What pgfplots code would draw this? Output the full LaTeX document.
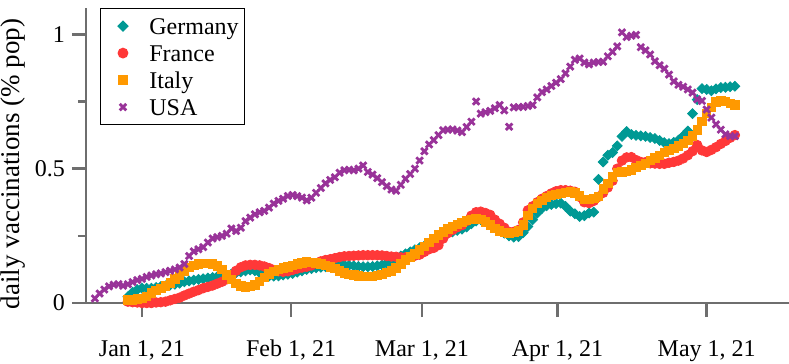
\documentclass[border=0pt]{standalone}
\usepackage{fontspec}
\setmainfont{Liberation Serif}
\usepackage{pgfplots}
\usepackage{pgfplotstable}
\pgfplotsset{compat=1.18}

\definecolor{axgray}{RGB}{110,110,110}
\definecolor{deteal}{RGB}{0,153,148}
\definecolor{frred}{RGB}{255,56,56}
\definecolor{itorange}{RGB}{255,153,0}
\definecolor{uspurple}{RGB}{153,51,153}

% day 0 = Jan 1, 2021; value = daily vaccinations in % of population
\pgfplotstableread[row sep=\\]{
day val\\
-3 0.023\\ -2 0.040\\ -1 0.050\\ 0 0.055\\ 1 0.055\\ 2 0.055\\ 3 0.058\\ 4 0.061\\ 5 0.064\\ 6 0.067\\
7 0.070\\ 8 0.074\\ 9 0.079\\ 10 0.082\\ 11 0.085\\ 12 0.088\\ 13 0.090\\ 14 0.093\\ 15 0.095\\ 16 0.098\\
17 0.100\\ 18 0.103\\ 19 0.108\\ 20 0.113\\ 21 0.116\\ 22 0.120\\ 23 0.123\\ 24 0.120\\ 25 0.113\\ 26 0.105\\
27 0.100\\ 28 0.100\\ 29 0.101\\ 30 0.104\\ 31 0.107\\ 32 0.110\\ 33 0.115\\ 34 0.120\\ 35 0.125\\ 36 0.128\\
37 0.131\\ 38 0.133\\ 39 0.135\\ 40 0.137\\ 41 0.140\\ 42 0.142\\ 43 0.142\\ 44 0.140\\ 45 0.138\\ 46 0.136\\
47 0.135\\ 48 0.135\\ 49 0.136\\ 50 0.138\\ 51 0.142\\ 52 0.148\\ 53 0.154\\ 54 0.165\\ 55 0.175\\ 56 0.183\\
57 0.190\\ 58 0.198\\ 59 0.206\\ 60 0.212\\ 61 0.222\\ 62 0.233\\ 63 0.243\\ 64 0.252\\ 65 0.260\\ 66 0.265\\
67 0.270\\ 68 0.275\\ 69 0.283\\ 70 0.295\\ 71 0.305\\ 72 0.310\\ 73 0.310\\ 74 0.305\\ 75 0.292\\ 76 0.275\\
77 0.260\\ 78 0.250\\ 79 0.245\\ 80 0.247\\ 81 0.262\\ 82 0.285\\ 83 0.310\\ 84 0.335\\ 85 0.352\\ 86 0.362\\
87 0.367\\ 88 0.370\\ 89 0.372\\ 90 0.360\\ 91 0.342\\ 92 0.332\\ 93 0.322\\ 94 0.325\\ 95 0.335\\ 96 0.338\\
97 0.460\\ 98 0.525\\ 99 0.550\\ 100 0.560\\ 101 0.585\\ 102 0.620\\ 103 0.638\\ 104 0.627\\ 105 0.624\\ 106 0.622\\
107 0.620\\ 108 0.616\\ 109 0.612\\ 110 0.605\\ 111 0.597\\ 112 0.593\\ 113 0.598\\ 114 0.606\\ 115 0.622\\ 116 0.640\\
117 0.705\\ 118 0.757\\ 119 0.798\\ 120 0.795\\ 121 0.790\\ 122 0.797\\ 123 0.802\\ 124 0.803\\ 125 0.805\\ 126 0.807\\
}\germany

\pgfplotstableread[row sep=\\]{
day val\\
-3 0.005\\ -2 0.003\\ -1 0.002\\ 0 0.000\\ 1 0.000\\ 2 0.000\\ 3 0.002\\ 4 0.003\\ 5 0.005\\ 6 0.010\\
7 0.015\\ 8 0.020\\ 9 0.028\\ 10 0.035\\ 11 0.042\\ 12 0.048\\ 13 0.055\\ 14 0.060\\ 15 0.065\\ 16 0.072\\
17 0.079\\ 18 0.088\\ 19 0.100\\ 20 0.120\\ 21 0.133\\ 22 0.140\\ 23 0.142\\ 24 0.142\\ 25 0.140\\ 26 0.136\\
27 0.130\\ 28 0.123\\ 29 0.118\\ 30 0.116\\ 31 0.118\\ 32 0.123\\ 33 0.128\\ 34 0.132\\ 35 0.135\\ 36 0.140\\
37 0.148\\ 38 0.155\\ 39 0.160\\ 40 0.163\\ 41 0.167\\ 42 0.171\\ 43 0.174\\ 44 0.175\\ 45 0.176\\ 46 0.177\\
47 0.178\\ 48 0.178\\ 49 0.178\\ 50 0.178\\ 51 0.177\\ 52 0.175\\ 53 0.173\\ 54 0.172\\ 55 0.170\\ 56 0.170\\
57 0.172\\ 58 0.176\\ 59 0.180\\ 60 0.190\\ 61 0.200\\ 62 0.205\\ 63 0.215\\ 64 0.240\\ 65 0.260\\ 66 0.272\\
67 0.282\\ 68 0.290\\ 69 0.305\\ 70 0.325\\ 71 0.338\\ 72 0.340\\ 73 0.335\\ 74 0.328\\ 75 0.310\\ 76 0.295\\
77 0.280\\ 78 0.265\\ 79 0.265\\ 80 0.272\\ 81 0.300\\ 82 0.345\\ 83 0.360\\ 84 0.375\\ 85 0.388\\ 86 0.398\\
87 0.408\\ 88 0.416\\ 89 0.420\\ 90 0.420\\ 91 0.418\\ 92 0.414\\ 93 0.395\\ 94 0.375\\ 95 0.372\\ 96 0.380\\
97 0.395\\ 98 0.410\\ 99 0.430\\ 100 0.455\\ 101 0.500\\ 102 0.530\\ 103 0.542\\ 104 0.543\\ 105 0.532\\ 106 0.525\\
107 0.524\\ 108 0.520\\ 109 0.519\\ 110 0.518\\ 111 0.518\\ 112 0.522\\ 113 0.525\\ 114 0.530\\ 115 0.538\\ 116 0.550\\
117 0.565\\ 118 0.588\\ 119 0.568\\ 120 0.562\\ 121 0.570\\ 122 0.580\\ 123 0.592\\ 124 0.603\\ 125 0.615\\ 126 0.625\\
}\france

\pgfplotstableread[row sep=\\]{
day val\\
-3 0.011\\ -2 0.012\\ -1 0.015\\ 0 0.017\\ 1 0.025\\ 2 0.037\\ 3 0.047\\ 4 0.055\\ 5 0.063\\ 6 0.075\\
7 0.090\\ 8 0.105\\ 9 0.120\\ 10 0.132\\ 11 0.140\\ 12 0.145\\ 13 0.148\\ 14 0.148\\ 15 0.145\\ 16 0.138\\
17 0.125\\ 18 0.105\\ 19 0.088\\ 20 0.072\\ 21 0.063\\ 22 0.060\\ 23 0.062\\ 24 0.068\\ 25 0.080\\ 26 0.095\\
27 0.108\\ 28 0.118\\ 29 0.125\\ 30 0.130\\ 31 0.135\\ 32 0.140\\ 33 0.145\\ 34 0.150\\ 35 0.153\\ 36 0.152\\
37 0.149\\ 38 0.145\\ 39 0.140\\ 40 0.135\\ 41 0.128\\ 42 0.120\\ 43 0.112\\ 44 0.107\\ 45 0.104\\ 46 0.101\\
47 0.099\\ 48 0.098\\ 49 0.099\\ 50 0.102\\ 51 0.107\\ 52 0.113\\ 53 0.120\\ 54 0.130\\ 55 0.145\\ 56 0.160\\
57 0.172\\ 58 0.183\\ 59 0.197\\ 60 0.210\\ 61 0.225\\ 62 0.240\\ 63 0.253\\ 64 0.265\\ 65 0.276\\ 66 0.285\\
67 0.293\\ 68 0.300\\ 69 0.307\\ 70 0.312\\ 71 0.315\\ 72 0.312\\ 73 0.302\\ 74 0.290\\ 75 0.278\\ 76 0.268\\
77 0.262\\ 78 0.260\\ 79 0.262\\ 80 0.268\\ 81 0.290\\ 82 0.325\\ 83 0.352\\ 84 0.370\\ 85 0.383\\ 86 0.393\\
87 0.400\\ 88 0.404\\ 89 0.408\\ 90 0.412\\ 91 0.414\\ 92 0.410\\ 93 0.398\\ 94 0.385\\ 95 0.386\\ 96 0.390\\
97 0.397\\ 98 0.425\\ 99 0.445\\ 100 0.470\\ 101 0.485\\ 102 0.488\\ 103 0.490\\ 104 0.495\\ 105 0.505\\ 106 0.513\\
107 0.520\\ 108 0.530\\ 109 0.540\\ 110 0.550\\ 111 0.560\\ 112 0.568\\ 113 0.576\\ 114 0.585\\ 115 0.594\\ 116 0.605\\
117 0.622\\ 118 0.645\\ 119 0.675\\ 120 0.705\\ 121 0.728\\ 122 0.748\\ 123 0.752\\ 124 0.750\\ 125 0.742\\ 126 0.738\\
}\italy

\pgfplotstableread[row sep=\\]{
day val\\
-10 0.017\\ -9 0.035\\ -8 0.050\\ -7 0.062\\ -6 0.068\\ -5 0.070\\ -4 0.064\\ -3 0.070\\ -2 0.078\\ -1 0.085\\
0 0.090\\ 1 0.097\\ 2 0.102\\ 3 0.107\\ 4 0.110\\ 5 0.115\\ 6 0.120\\ 7 0.125\\ 8 0.132\\ 9 0.145\\
10 0.175\\ 11 0.192\\ 12 0.200\\ 13 0.208\\ 14 0.225\\ 15 0.240\\ 16 0.245\\ 17 0.250\\ 18 0.258\\ 19 0.277\\
20 0.268\\ 21 0.280\\ 22 0.305\\ 23 0.318\\ 24 0.330\\ 25 0.338\\ 26 0.343\\ 27 0.355\\ 28 0.370\\ 29 0.380\\
30 0.388\\ 31 0.398\\ 32 0.402\\ 33 0.398\\ 34 0.392\\ 35 0.382\\ 36 0.392\\ 37 0.410\\ 38 0.428\\ 39 0.445\\
40 0.458\\ 41 0.468\\ 42 0.485\\ 43 0.494\\ 44 0.496\\ 45 0.494\\ 46 0.500\\ 47 0.512\\ 48 0.488\\ 49 0.478\\
50 0.465\\ 51 0.450\\ 52 0.435\\ 53 0.422\\ 54 0.418\\ 55 0.440\\ 56 0.462\\ 57 0.480\\ 58 0.500\\ 59 0.530\\
60 0.565\\ 61 0.590\\ 62 0.606\\ 63 0.625\\ 64 0.643\\ 65 0.645\\ 66 0.646\\ 67 0.642\\ 68 0.636\\ 69 0.655\\
70 0.675\\ 71 0.750\\ 72 0.705\\ 73 0.710\\ 74 0.715\\ 75 0.725\\ 76 0.737\\ 77 0.717\\ 78 0.656\\ 79 0.728\\
80 0.729\\ 81 0.730\\ 82 0.733\\ 83 0.737\\ 84 0.765\\ 85 0.785\\ 86 0.795\\ 87 0.808\\ 88 0.820\\ 89 0.833\\
90 0.855\\ 91 0.880\\ 92 0.905\\ 93 0.910\\ 94 0.895\\ 95 0.888\\ 96 0.895\\ 97 0.897\\ 98 0.898\\ 99 0.918\\
100 0.935\\ 101 0.955\\ 102 1.007\\ 103 0.990\\ 104 0.995\\ 105 0.998\\ 106 0.952\\ 107 0.940\\ 108 0.925\\ 109 0.900\\
110 0.885\\ 111 0.872\\ 112 0.850\\ 113 0.825\\ 114 0.812\\ 115 0.805\\ 116 0.795\\ 117 0.783\\ 118 0.758\\ 119 0.752\\
120 0.720\\ 121 0.690\\ 122 0.665\\ 123 0.645\\ 124 0.628\\ 125 0.621\\ 126 0.621\\
}\usa

\begin{document}
\begin{tikzpicture}
\begin{axis}[
  scale only axis, width=351.5pt, height=147.5pt,
  xmin=-11.9, xmax=137.5, ymin=0, ymax=1.098,
  axis x line*=bottom, axis y line*=left,
  axis line style={axgray, line width=1.3pt},
  tick style={axgray, line width=1.3pt},
  tick align=outside, major tick length=7pt, minor tick length=4pt,
  xtick={0,31.7,59.5,88.3,120},
  xticklabels={{Jan 1, 21},{Feb 1, 21},{Mar 1, 21},{Apr 1, 21},{May 1, 21}},
  xticklabel style={anchor=north, text height=8.2pt, text depth=2.4pt, yshift=-8pt},
  ytick={0,0.5,1}, yticklabels={0,0.5,1}, minor ytick={0.25,0.75},
  ticklabel style={font=\fontsize{12}{14}\selectfont},
  /pgf/number format/assume math mode=true,
  ylabel={daily vaccinations (\% pop)},
  ylabel style={font=\fontsize{13.5}{16}\selectfont, at={(axis description cs:-0.104,0.471)}, anchor=center},
  clip=false,
  legend cell align=left,
  legend image code/.code={
    \path (0pt,0pt) (17pt,0pt);
    \draw[#1] plot coordinates {(8.5pt,0pt)};
  },
  legend style={at={(axis description cs:0.0199,1.0)}, anchor=north west,
    draw=black, line width=0.6pt, inner xsep=2pt, inner ysep=4pt,
    row sep=4pt, column sep=3pt,
    font=\fontsize{12}{14}\selectfont,
    nodes={inner xsep=1pt, inner ysep=0.5pt, text height=8.5pt, text depth=0pt}},
]
\addplot[only marks, mark=square*, mark size=1.75pt, color=deteal, mark options={rotate=45}] table[x=day,y=val] {\germany};
\addlegendentry{Germany}
\addplot[only marks, mark=*, mark size=2.4pt, color=frred] table[x=day,y=val] {\france};
\addlegendentry{France}
\addplot[only marks, mark=square*, mark size=2.1pt, color=itorange] table[x=day,y=val] {\italy};
\addlegendentry{Italy}
\addplot[only marks, mark=x, mark size=2.3pt, line width=1.4pt, color=uspurple] table[x=day,y=val] {\usa};
\addlegendentry{USA}
\coordinate (bbsw) at (axis description cs:-0.1223,-0.2034);
\coordinate (bbne) at (axis description cs:1,1.0271);
\end{axis}
\pgfresetboundingbox
\path (bbsw) rectangle (bbne);
\end{tikzpicture}
\end{document}
